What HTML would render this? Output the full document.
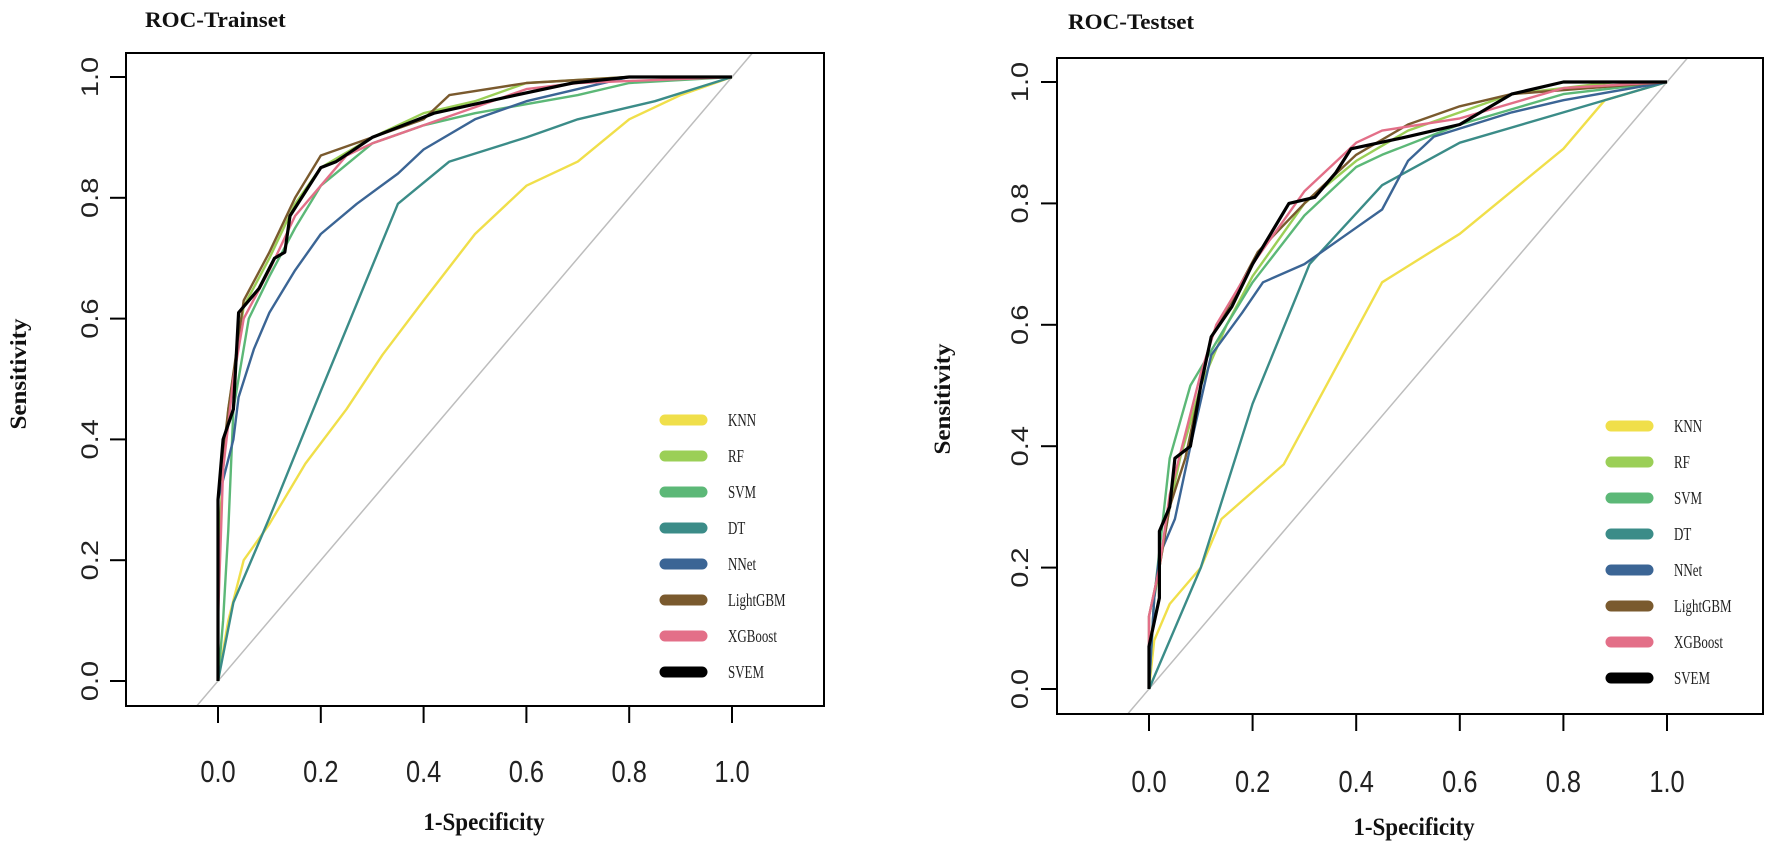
<!DOCTYPE html>
<html><head><meta charset="utf-8"><style>
html,body{margin:0;padding:0;background:#fff;}
svg{display:block;}
</style></head><body>
<svg id="chart" width="1772" height="850" viewBox="0 0 1772 850" xmlns="http://www.w3.org/2000/svg"></svg>
<script>
const models = ["KNN","RF","SVM","DT","NNet","LightGBM","XGBoost","SVEM"];
const colors = ["#f0df4a","#9bcf57","#5cb877","#3b8c88","#3b6595","#7a5a2e","#e36f88","#000000"];
const xTicks = [0,0.2,0.4,0.6,0.8,1.0];
const xTickLabels = ["0.0","0.2","0.4","0.6","0.8","1.0"];
const yTicks = [0,0.2,0.4,0.6,0.8,1.0];
const yTickLabels = ["0.0","0.2","0.4","0.6","0.8","1.0"];

// Trainset curves: [1-specificity, sensitivity]
const trainKNN = [[0,0],[0.02,0.1],[0.05,0.2],[0.1,0.26],[0.17,0.36],[0.25,0.45],[0.32,0.54],[0.4,0.63],[0.5,0.74],[0.6,0.82],[0.7,0.86],[0.8,0.93],[0.9,0.97],[1,1]];
const trainRF = [[0,0],[0,0.2],[0.01,0.35],[0.02,0.45],[0.05,0.62],[0.1,0.7],[0.15,0.79],[0.2,0.85],[0.3,0.9],[0.4,0.94],[0.5,0.96],[0.6,0.99],[0.8,1],[1,1]];
const trainSVM = [[0,0],[0.01,0.1],[0.02,0.25],[0.03,0.45],[0.06,0.6],[0.1,0.67],[0.15,0.75],[0.2,0.82],[0.3,0.89],[0.4,0.92],[0.5,0.94],[0.7,0.97],[0.8,0.99],[1,1]];
const trainDT = [[0,0],[0.03,0.13],[0.1,0.27],[0.2,0.48],[0.35,0.79],[0.45,0.86],[0.6,0.9],[0.7,0.93],[0.85,0.96],[1,1]];
const trainNNet = [[0,0],[0,0.3],[0.03,0.4],[0.04,0.47],[0.07,0.55],[0.1,0.61],[0.15,0.68],[0.2,0.74],[0.27,0.79],[0.35,0.84],[0.4,0.88],[0.5,0.93],[0.6,0.96],[0.7,0.98],[0.8,1],[1,1]];
const trainLightGBM = [[0,0],[0,0.3],[0.02,0.45],[0.05,0.63],[0.1,0.71],[0.15,0.8],[0.2,0.87],[0.3,0.9],[0.4,0.93],[0.45,0.97],[0.6,0.99],[0.8,1],[1,1]];
const trainXGBoost = [[0,0],[0,0.1],[0.01,0.35],[0.03,0.5],[0.05,0.6],[0.1,0.68],[0.15,0.77],[0.2,0.82],[0.25,0.87],[0.3,0.89],[0.4,0.92],[0.5,0.95],[0.6,0.98],[0.7,0.99],[1,1]];
const trainSVEM = [[0,0],[0,0.3],[0.01,0.4],[0.03,0.45],[0.04,0.61],[0.08,0.65],[0.11,0.7],[0.13,0.71],[0.14,0.77],[0.2,0.85],[0.23,0.86],[0.3,0.9],[0.42,0.94],[0.58,0.97],[0.69,0.99],[0.8,1],[1,1]];

// Testset curves
const testKNN = [[0,0],[0.01,0.08],[0.04,0.14],[0.1,0.2],[0.14,0.28],[0.26,0.37],[0.45,0.67],[0.6,0.75],[0.8,0.89],[0.88,0.97],[1,1]];
const testRF = [[0,0],[0.01,0.15],[0.04,0.3],[0.06,0.38],[0.1,0.5],[0.15,0.6],[0.2,0.68],[0.3,0.8],[0.4,0.87],[0.5,0.92],[0.7,0.98],[0.9,1],[1,1]];
const testSVM = [[0,0],[0.01,0.15],[0.04,0.38],[0.08,0.5],[0.15,0.6],[0.2,0.67],[0.3,0.78],[0.4,0.86],[0.45,0.88],[0.6,0.93],[0.8,0.98],[1,1]];
const testDT = [[0,0],[0.05,0.1],[0.1,0.2],[0.2,0.47],[0.31,0.7],[0.45,0.83],[0.6,0.9],[0.8,0.95],[1,1]];
const testNNet = [[0,0],[0.01,0.15],[0.02,0.22],[0.05,0.28],[0.08,0.4],[0.12,0.55],[0.18,0.62],[0.22,0.67],[0.3,0.7],[0.4,0.76],[0.45,0.79],[0.5,0.87],[0.55,0.91],[0.7,0.95],[0.8,0.97],[1,1]];
const testLightGBM = [[0,0],[0,0.12],[0.02,0.2],[0.04,0.3],[0.07,0.38],[0.1,0.5],[0.12,0.58],[0.16,0.64],[0.21,0.72],[0.3,0.8],[0.4,0.88],[0.5,0.93],[0.6,0.96],[0.7,0.98],[1,1]];
const testXGBoost = [[0,0],[0,0.12],[0.02,0.2],[0.04,0.32],[0.07,0.42],[0.1,0.52],[0.13,0.6],[0.2,0.7],[0.3,0.82],[0.4,0.9],[0.45,0.92],[0.6,0.94],[0.8,0.99],[1,1]];
const testSVEM = [[0,0],[0,0.07],[0.02,0.15],[0.02,0.26],[0.04,0.3],[0.05,0.38],[0.08,0.4],[0.1,0.5],[0.12,0.58],[0.16,0.63],[0.2,0.7],[0.27,0.8],[0.32,0.81],[0.36,0.85],[0.39,0.89],[0.5,0.91],[0.6,0.93],[0.7,0.98],[0.8,1],[1,1]];

const trainSeries = [trainKNN,trainRF,trainSVM,trainDT,trainNNet,trainLightGBM,trainXGBoost,trainSVEM];
const testSeries = [testKNN,testRF,testSVM,testDT,testNNet,testLightGBM,testXGBoost,testSVEM];

const NS = "http://www.w3.org/2000/svg";
const svg = document.getElementById("chart");
function mk(tag, attrs, parent){
  const e = document.createElementNS(NS, tag);
  for (const k in attrs) e.setAttribute(k, attrs[k]);
  (parent||svg).appendChild(e);
  return e;
}

function panel(p){
  const g = mk("g", {});
  
  
  const sx = v => p.x0 + v*(p.x1 - p.x0);
  const sy = v => p.y0 - v*(p.y0 - p.y1);
  const t = mk("text", {x:0, y:0, transform:"translate("+p.titleX+","+p.titleY+") scale(1.05,1)", "font-family":"Liberation Serif, serif", "font-weight":"bold", "font-size":"22", fill:"#111"}, g);
  t.textContent = p.title;
  
  
  const cid = "clip-" + p.key;
  const cp = mk("clipPath", {id:cid}, g);
  mk("rect", {x:p.bl, y:p.bt, width:p.br-p.bl, height:p.bb-p.bt}, cp);
  const diag = mk("line", {x1:sx(-0.3), y1:sy(-0.3), x2:sx(1.3), y2:sy(1.3), stroke:"#bdbdbd", "stroke-width":"1.5", "clip-path":"url(#"+cid+")"}, g);
  
  
  p.series.forEach((s, i) => {
    const pts = s.map(d => sx(d[0]).toFixed(1) + "," + sy(d[1]).toFixed(1)).join(" ");
    const pl = mk("polyline", {points:pts, fill:"none", stroke:colors[i], "stroke-width": i===7 ? "3.2" : "2.4", "stroke-linejoin":"round"}, g);
    
    
  });
  const box = mk("rect", {x:p.bl, y:p.bt, width:p.br-p.bl, height:p.bb-p.bt, fill:"none", stroke:"#000", "stroke-width":"2"}, g);
  
  
  xTicks.forEach((v, i) => {
    mk("line", {x1:sx(v), y1:p.bb, x2:sx(v), y2:p.bb+17, stroke:"#000", "stroke-width":"2"}, g);
    const tl = mk("text", {x:0, y:0, transform:"translate("+sx(v)+","+(p.xLabY+11)+") scale(0.82,1)", "text-anchor":"middle", "font-family":"Liberation Sans, sans-serif", "font-size":"31", fill:"#222"}, g);
    tl.textContent = xTickLabels[i];
    
    
  });
  yTicks.forEach((v, i) => {
    mk("line", {x1:p.bl, y1:sy(v), x2:p.bl-16, y2:sy(v), stroke:"#000", "stroke-width":"2"}, g);
    const tl = mk("text", {x:0, y:0, "text-anchor":"middle", "font-family":"Liberation Sans, sans-serif", "font-size":"29", fill:"#222", transform:"translate("+(p.yLabX+10)+","+sy(v)+") rotate(-90) scale(1,0.82)"}, g);
    tl.textContent = yTickLabels[i];
    
    
  });
  const xt = mk("text", {x:0, y:0, transform:"translate("+p.xTitleX+","+(p.xTitleY+3)+") scale(0.92,1)", "text-anchor":"middle", "font-family":"Liberation Serif, serif", "font-weight":"bold", "font-size":"25", fill:"#111"}, g);
  xt.textContent = "1-Specificity";
  
  
  const yt = mk("text", {x:0, y:0, "text-anchor":"middle", "font-family":"Liberation Serif, serif", "font-weight":"bold", "font-size":"25", fill:"#111", transform:"translate("+(p.yTitleX+2)+","+p.yTitleY+") rotate(-90) scale(1,0.92)"}, g);
  yt.textContent = "Sensitivity";
  
  
  const lg = mk("g", {}, g);
  
  
  models.forEach((m, i) => {
    const y = p.legY + i*36;
    const sw = mk("line", {x1:p.legX+5, y1:y, x2:p.legX+42, y2:y, stroke:colors[i], "stroke-width":"11", "stroke-linecap":"round"}, lg);
    
    
    const lt = mk("text", {x:0, y:0, transform:"translate("+(p.legX+68)+","+(y+6)+") scale(0.72,1)", "font-family":"Liberation Serif, serif", "font-size":"18", fill:"#222"}, lg);
    lt.textContent = m;
    
    
  });
}

panel({key:"trainset", title:"ROC-Trainset", titleX:145, titleY:27, series:trainSeries,
  x0:218, x1:732, y0:681, y1:77, bl:126, br:824, bt:53, bb:706,
  xLabY:771, yLabX:88, xTitleX:484, xTitleY:827, yTitleX:24, yTitleY:374, legX:660, legY:420});
panel({key:"testset", title:"ROC-Testset", titleX:1068, titleY:29, series:testSeries,
  x0:1149, x1:1667, y0:689, y1:82, bl:1057, br:1763, bt:58, bb:714,
  xLabY:781, yLabX:1018, xTitleX:1414, xTitleY:832, yTitleX:948, yTitleY:399, legX:1606, legY:426});
</script>
</body></html>
